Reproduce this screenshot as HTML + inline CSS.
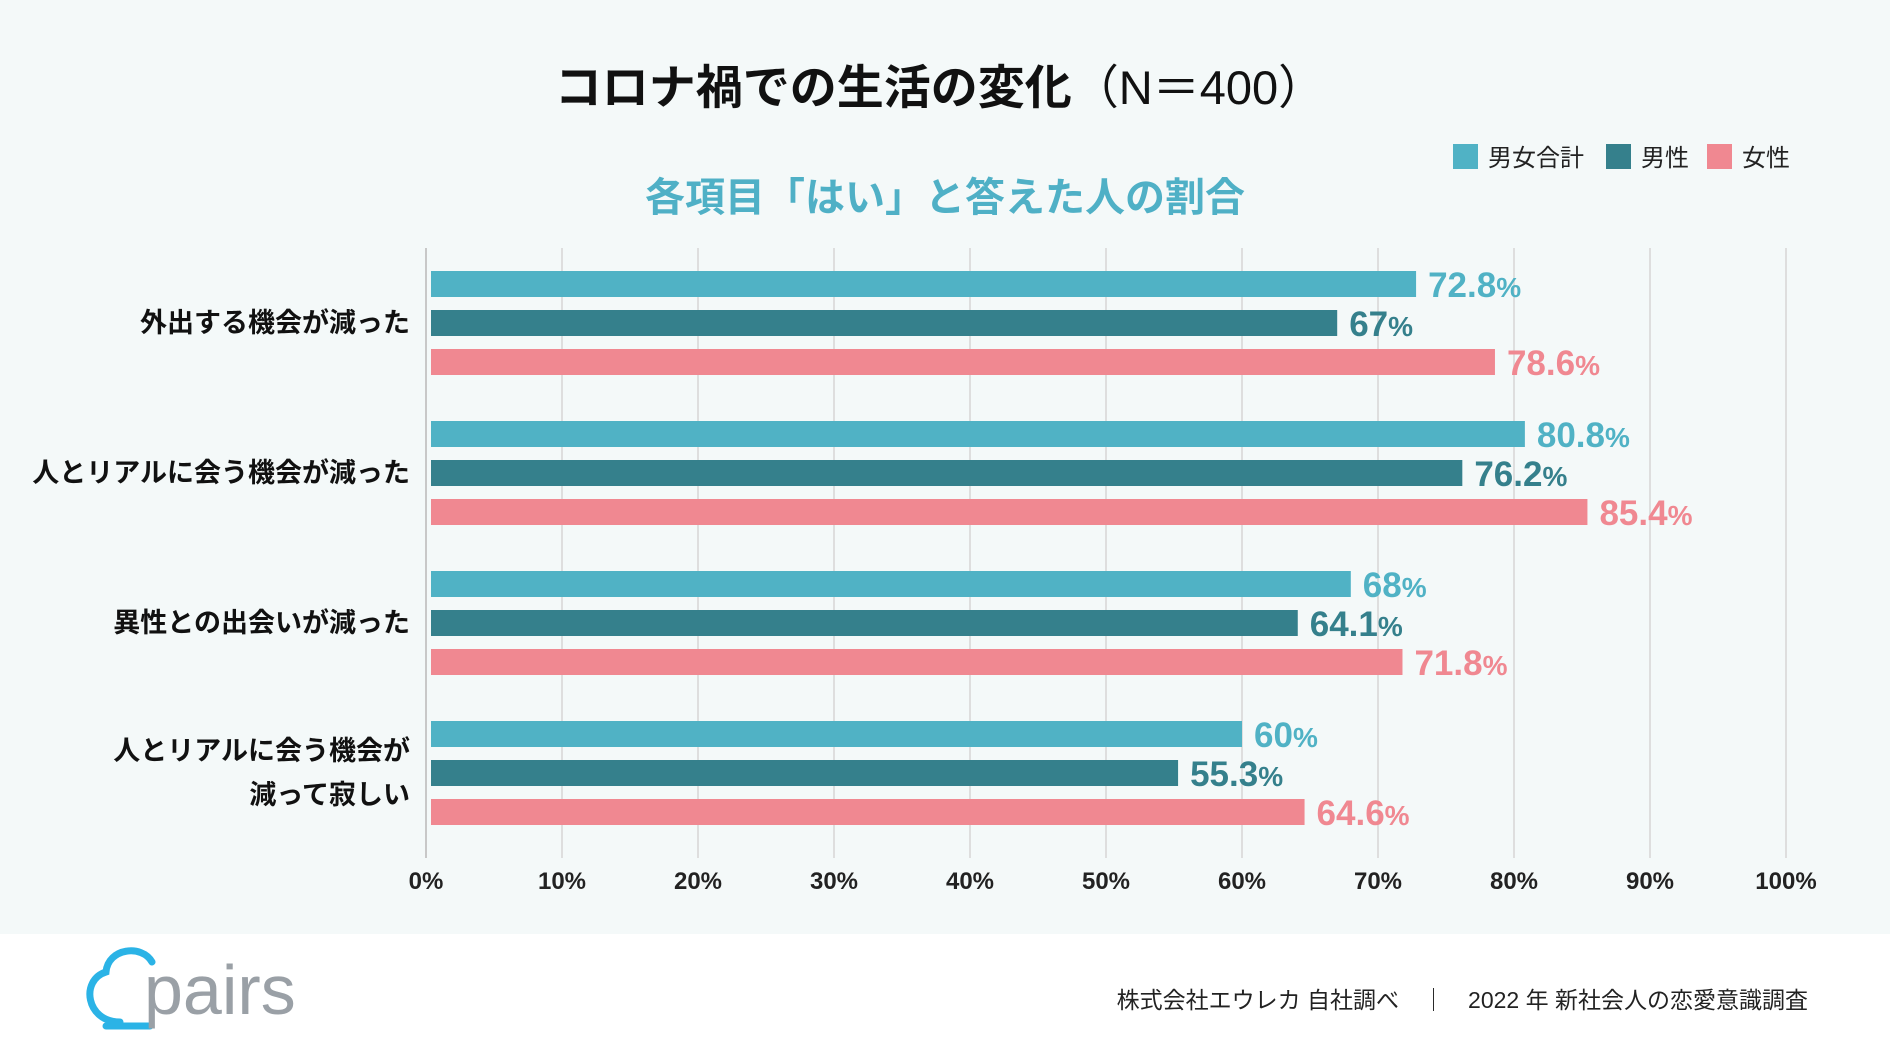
<!DOCTYPE html>
<html><head><meta charset="utf-8"><style>
body{margin:0;width:1890px;height:1064px;background:#fff;font-family:"Liberation Sans","Noto Sans CJK JP",sans-serif;overflow:hidden}
#top{position:absolute;left:0;top:0;width:1890px;height:934px;background:#f4f9f9}
</style></head><body>
<div id="top"></div>
<svg width="1890" height="1064" style="position:absolute;left:0;top:0" font-family="Liberation Sans, Noto Sans CJK JP, sans-serif">
<text x="940" y="104" text-anchor="middle" font-size="47" font-weight="bold" fill="#111">コロナ禍での生活の変化<tspan font-weight="normal">（N＝400）</tspan></text>
<text x="945" y="211" text-anchor="middle" font-size="40" font-weight="bold" fill="#4fb0c6">各項目「はい」と答えた人の割合</text>
<g id="legend" font-size="24" fill="#222"></g>
<g id="grid"></g><g id="bars"></g><g id="labels"></g>
<g>
<path d="M120 1022 C86 1022 80 980 106 972 C108 948 142 944 152 962" fill="none" stroke="#2bb3e6" stroke-width="7" stroke-linecap="round"/>
<path d="M106 1026 L150 1026" stroke="#2bb3e6" stroke-width="7" stroke-linecap="round"/>
<text x="144" y="1014" font-size="70" fill="#9aa0a6">pairs</text>
</g>
<text x="1808" y="1008" text-anchor="end" font-size="23" fill="#222">株式会社エウレカ 自社調べ　｜　2022 年 新社会人の恋愛意識調査</text>
</svg>
<script>
const categories=[["外出する機会が減った"],["人とリアルに会う機会が減った"],["異性との出会いが減った"],["人とリアルに会う機会が","減って寂しい"]];
const seriesNames=["男女合計","男性","女性"];
const totalVals=[72.8,80.8,68,60];
const maleVals=[67,76.2,64.1,55.3];
const femaleVals=[78.6,85.4,71.8,64.6];
const tickLabels=["0%","10%","20%","30%","40%","50%","60%","70%","80%","90%","100%"];
const colors=["#50b2c5","#35808c","#f08891"];
const NS="http://www.w3.org/2000/svg";
const x0=426,xs=13.6,gy0=248,gy1=858;
const xf=v=>x0+v*xs;
function mk(t,a,p){const e=document.createElementNS(NS,t);for(const k in a)e.setAttribute(k,a[k]);p.appendChild(e);return e;}
const grid=document.getElementById('grid'),bars=document.getElementById('bars'),labels=document.getElementById('labels'),legend=document.getElementById('legend');
tickLabels.forEach((t,i)=>{
 const v=i*10;
 const l=mk('line',{x1:xf(v),x2:xf(v),y1:gy0,y2:gy1,stroke:i==0?'#c8c8c8':'#d6d6d6','stroke-width':i==0?2:1.5},grid);
 
 
 const tx=mk('text',{x:xf(v),y:889,'text-anchor':'middle','font-size':24,'font-weight':'bold',fill:'#222'},grid);
 tx.textContent=t;
 
 
});
const series=[totalVals,maleVals,femaleVals];
categories.forEach((c,ci)=>{
 const gtop=271+ci*150;
 c.forEach((line,li)=>{
  const y=gtop+52+(c.length==1?0:(li-0.5)*44)+9;
  const t=mk('text',{x:410,y:y,'text-anchor':'end','font-size':27,'font-weight':'bold',fill:'#111'},labels);
  t.textContent=line;
  
  
 });
 series.forEach((s,si)=>{
  const y=gtop+si*39;
  const r=mk('rect',{x:431,y:y,width:Math.max(0,xf(s[ci])-431),height:26,fill:colors[si]},bars);
  
  
  const t=mk('text',{x:xf(s[ci])+12,y:y+26,'font-size':35,'font-weight':'bold',fill:colors[si]},labels);
  t.innerHTML=s[ci]+'<tspan font-size="28">%</tspan>';
  
  
 });
});
const lx=[1453,1606,1707];
seriesNames.forEach((n,i)=>{
 const r=mk('rect',{x:lx[i],y:144,width:25,height:25,fill:colors[i]},legend);
 
 
 const t=mk('text',{x:lx[i]+35,y:166},legend);
 t.textContent=n;
 
 
});
</script>
</body></html>
